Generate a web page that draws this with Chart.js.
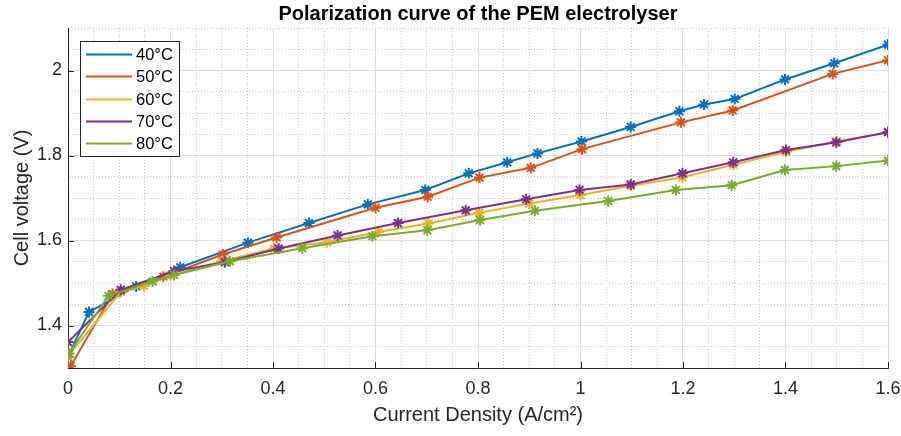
<!DOCTYPE html>
<html>
<head>
<meta charset="utf-8">
<script src="https://cdn.jsdelivr.net/npm/chart.js@4.4.1/dist/chart.umd.min.js"></script>
<style>
  html, body { margin: 0; padding: 0; background: #fff; }
  #wrap { width: 901px; height: 436px; }
</style>
</head>
<body>
<div id="wrap"><canvas id="polChart" width="901" height="436"></canvas></div>
<script>
// current density (A/cm2) and cell voltage (V), one pair of arrays per temperature
const xs40 = [0, 0.041, 0.133, 0.219, 0.351, 0.470, 0.585, 0.697, 0.782, 0.857, 0.916, 1.002, 1.098, 1.193, 1.241, 1.301, 1.399, 1.495, 1.600];
const v40  = [1.326, 1.432, 1.492, 1.537, 1.595, 1.641, 1.685, 1.719, 1.758, 1.784, 1.805, 1.833, 1.867, 1.904, 1.920, 1.933, 1.979, 2.017, 2.061];

const xs50 = [0.005, 0.087, 0.186, 0.302, 0.407, 0.600, 0.702, 0.803, 0.903, 1.003, 1.196, 1.297, 1.492, 1.600];
const v50  = [1.304, 1.474, 1.515, 1.567, 1.607, 1.677, 1.703, 1.748, 1.771, 1.815, 1.878, 1.906, 1.992, 2.024];

const xs60 = [0, 0.103, 0.148, 0.200, 0.300, 0.402, 0.505, 0.605, 0.703, 0.802, 0.900, 1.000, 1.098, 1.199, 1.298, 1.401, 1.500, 1.600];
const v60  = [1.328, 1.479, 1.493, 1.518, 1.551, 1.581, 1.596, 1.620, 1.640, 1.665, 1.687, 1.707, 1.729, 1.749, 1.778, 1.809, 1.833, 1.855];

const xs70 = [0, 0.103, 0.207, 0.306, 0.411, 0.526, 0.644, 0.776, 0.894, 0.998, 1.098, 1.199, 1.298, 1.401, 1.499, 1.600];
const v70  = [1.361, 1.484, 1.528, 1.549, 1.581, 1.612, 1.641, 1.671, 1.697, 1.719, 1.732, 1.758, 1.784, 1.813, 1.831, 1.855];

const xs80 = [0.002, 0.079, 0.165, 0.207, 0.316, 0.457, 0.594, 0.701, 0.804, 0.911, 1.054, 1.186, 1.295, 1.399, 1.499, 1.600];
const v80  = [1.334, 1.470, 1.504, 1.519, 1.551, 1.582, 1.610, 1.624, 1.648, 1.670, 1.693, 1.719, 1.730, 1.766, 1.775, 1.788];

const seriesLabels = ['40°C', '50°C', '60°C', '70°C', '80°C'];
const seriesX = [xs40, xs50, xs60, xs70, xs80];
const seriesY = [v40, v50, v60, v70, v80];
const seriesColors = ['#0072BD', '#D95319', '#EDB120', '#7E2F8E', '#77AC30'];

const xMajorTicks = [0, 0.2, 0.4, 0.6, 0.8, 1, 1.2, 1.4, 1.6];
const xTickLabels = ['0', '0.2', '0.4', '0.6', '0.8', '1', '1.2', '1.4', '1.6'];
const yMajorTicks = [1.4, 1.6, 1.8, 2];
const yTickLabels = ['1.4', '1.6', '1.8', '2'];

const axisColor = '#262626';
const fontFamily = '"Liberation Sans", Arial, Helvetica, sans-serif';

function majorIndex(value, list) {
    for (let i = 0; i < list.length; i++) {
        if (Math.abs(value - list[i]) < 1e-6) return i;
    }
    return -1;
}

function gridColor(list) {
    return ctx => {
        if (!ctx.tick) return '#dedede';
        return majorIndex(ctx.tick.value, list) >= 0 ? '#dedede' : '#c4c4c4';
    };
}

function gridDash(list) {
    return ctx => {
        if (!ctx.tick) return [];
        return majorIndex(ctx.tick.value, list) >= 0 ? [] : [1, 2];
    };
}

// legend box drawn inside the plot, top-left like matlab
const boxLegend = {
    id: 'boxLegend',
    afterDraw(chart) {
        const ctx = chart.ctx;
        const area = chart.chartArea;
        const left = area.left + 12;
        const top = area.top + 13;
        const w = 99;
        const h = 115;

        ctx.save();
        ctx.fillStyle = '#fff';
        ctx.fillRect(left, top, w, h);
        ctx.strokeStyle = axisColor;
        ctx.lineWidth = 1;
        ctx.strokeRect(left + 0.5, top + 0.5, w, h);

        ctx.font = '16.5px ' + fontFamily;
        ctx.textBaseline = 'middle';
        chart.data.datasets.forEach((ds, i) => {
            const y = Math.round(top + 13 + i * 22.3) + 0.5;
            ctx.strokeStyle = ds.borderColor;
            ctx.lineWidth = 2;
            ctx.beginPath();
            ctx.moveTo(left + 6, y);
            ctx.lineTo(left + 52, y);
            ctx.stroke();
            ctx.fillStyle = '#000';
            ctx.fillText(ds.label, left + 56, y + 1);
        });
        ctx.restore();
    }
};

// short tick marks pointing into the axes
const innerTicks = {
    id: 'innerTicks',
    beforeDatasetsDraw(chart) {
        const {ctx, chartArea, scales} = chart;
        ctx.save();
        ctx.strokeStyle = axisColor;
        ctx.lineWidth = 1;
        ctx.beginPath();
        xMajorTicks.forEach(v => {
            const px = Math.round(scales.x.getPixelForValue(v)) + 0.5;
            ctx.moveTo(px, chartArea.bottom);
            ctx.lineTo(px, chartArea.bottom - 6);
        });
        yMajorTicks.forEach(v => {
            const py = Math.round(scales.y.getPixelForValue(v)) + 0.5;
            ctx.moveTo(chartArea.left, py);
            ctx.lineTo(chartArea.left + 6, py);
        });
        ctx.stroke();
        ctx.restore();
    }
};

const datasets = seriesLabels.map((label, i) => ({
    label: label,
    data: seriesX[i].map((x, j) => ({ x: x, y: seriesY[i][j] })),
    borderColor: seriesColors[i],
    backgroundColor: seriesColors[i],
    borderWidth: 2,
    tension: 0,
    pointStyle: 'star',
    pointRadius: 5.5,
    pointBorderWidth: 2,
    pointBorderColor: seriesColors[i],
    pointBackgroundColor: seriesColors[i],
    order: seriesLabels.length - i
}));

new Chart(document.getElementById('polChart'), {
    type: 'line',
    data: { datasets: datasets },
    options: {
        responsive: false,
        animation: false,
        devicePixelRatio: 1,
        layout: { padding: { left: 0, right: 13, top: 0, bottom: 0 } },
        plugins: {
            legend: { display: false },
            tooltip: { enabled: false },
            title: {
                display: true,
                text: 'Polarization curve of the PEM electrolyser',
                color: '#000',
                fullSize: false,
                font: { family: fontFamily, size: 20, weight: 'bold' },
                padding: { top: 2, bottom: 2 }
            }
        },
        scales: {
            x: {
                type: 'linear',
                min: 0,
                max: 1.6,
                afterFit: s => {
                    s.height = 68;
                    s.paddingLeft = 0;
                    s.paddingRight = 0;
                },
                ticks: {
                    stepSize: 0.05,
                    autoSkip: false,
                    maxRotation: 0,
                    minRotation: 0,
                    padding: 10,
                    color: axisColor,
                    font: { family: fontFamily, size: 18 },
                    callback: v => {
                        const k = majorIndex(v, xMajorTicks);
                        return k >= 0 ? xTickLabels[k] : '';
                    }
                },
                grid: {
                    color: gridColor(xMajorTicks),
                    lineWidth: 1,
                    drawTicks: false
                },
                border: { color: axisColor, width: 1, dash: gridDash(xMajorTicks) },
                title: {
                    display: true,
                    text: 'Current Density (A/cm²)',
                    color: axisColor,
                    font: { family: fontFamily, size: 20 },
                    padding: { top: 0, bottom: 9 }
                }
            },
            y: {
                type: 'linear',
                min: 1.3,
                max: 2.1,
                afterFit: s => {
                    s.width = 68;
                    s.paddingTop = 0;
                    s.paddingBottom = 0;
                },
                ticks: {
                    stepSize: 0.05,
                    autoSkip: false,
                    padding: 6,
                    color: axisColor,
                    font: { family: fontFamily, size: 18 },
                    callback: v => {
                        const k = majorIndex(v, yMajorTicks);
                        return k >= 0 ? yTickLabels[k] : '';
                    }
                },
                grid: {
                    color: gridColor(yMajorTicks),
                    lineWidth: 1,
                    drawTicks: false
                },
                border: { color: axisColor, width: 1, dash: gridDash(yMajorTicks) },
                title: {
                    display: true,
                    text: 'Cell voltage (V)',
                    color: axisColor,
                    font: { family: fontFamily, size: 20 },
                    padding: { top: 10, bottom: 0 }
                }
            }
        }
    },
    plugins: [innerTicks, boxLegend]
});
</script>
</body>
</html>
